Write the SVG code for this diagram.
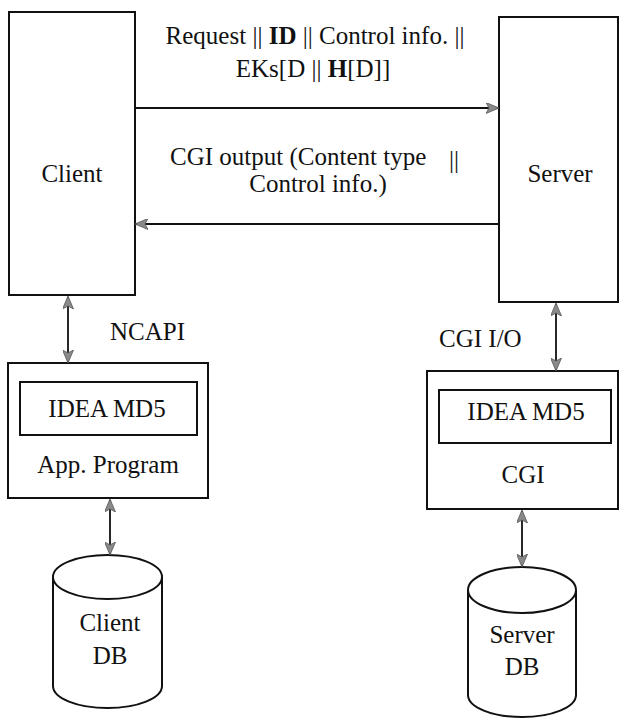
<svg xmlns="http://www.w3.org/2000/svg" width="620" height="718" viewBox="0 0 620 718">
  <style>
    .box { fill: #fff; stroke: #111; stroke-width: 2; }
    .db { fill: #fff; stroke: #111; stroke-width: 2; }
    .lbl { font-family: "Liberation Serif", "Times New Roman", serif; font-size: 25px; fill: #111; }
    .mid { text-anchor: middle; }
    .link { stroke: #111; stroke-width: 1.8; fill: none; }
  </style>
  <defs>
    <marker id="arr" viewBox="0 0 13 11" refX="12" refY="5.5" markerWidth="13" markerHeight="11" markerUnits="userSpaceOnUse" orient="auto-start-reverse">
      <path d="M0,0 L13,5.5 L0,11 L3,5.5 Z" fill="#8a8a8a" stroke="#555" stroke-width="0.8"/>
    </marker>
  </defs>
  <rect width="620" height="718" fill="#fff"/>

  <g id="client">
    <rect class="box" x="9" y="12" width="126" height="283"/>
    <text class="lbl mid" x="72" y="182">Client</text>
  </g>

  <g id="server">
    <rect class="box" x="499" y="17" width="119" height="285"/>
    <text class="lbl mid" x="560" y="182">Server</text>
  </g>

  <g id="app-program">
    <rect class="box" x="8" y="363" width="200" height="135"/>
    <rect class="box" x="20" y="382" width="177" height="53"/>
    <text class="lbl mid" x="107" y="417">IDEA MD5</text>
    <text class="lbl mid" x="108" y="473">App. Program</text>
  </g>

  <g id="cgi">
    <rect class="box" x="427" y="371" width="191" height="138"/>
    <rect class="box" x="439" y="390" width="172" height="53"/>
    <text class="lbl mid" x="526" y="420">IDEA MD5</text>
    <text class="lbl mid" x="523" y="483">CGI</text>
  </g>

  <g id="client-db">
    <path class="db" d="M53,577 L53,686 A54.5,22 0 0 0 162,686 L162,577"/>
    <ellipse class="db" cx="107.5" cy="577" rx="54.5" ry="22"/>
    <text class="lbl mid" x="110" y="631">Client</text>
    <text class="lbl mid" x="110" y="664">DB</text>
  </g>

  <g id="server-db">
    <path class="db" d="M468,590 L468,695 A54,22 0 0 0 576,695 L576,590"/>
    <ellipse class="db" cx="522" cy="590" rx="54" ry="23"/>
    <text class="lbl mid" x="522" y="643">Server</text>
    <text class="lbl mid" x="522" y="675">DB</text>
  </g>

  <g id="connectors">
    <line class="link" x1="135" y1="108" x2="498" y2="108" marker-end="url(#arr)"/>
    <line class="link" x1="499" y1="224" x2="136" y2="224" marker-end="url(#arr)"/>
    <line class="link" x1="68" y1="297" x2="68" y2="362" marker-start="url(#arr)" marker-end="url(#arr)"/>
    <line class="link" x1="110" y1="500" x2="110" y2="554" marker-start="url(#arr)" marker-end="url(#arr)"/>
    <line class="link" x1="556" y1="304" x2="556" y2="370" marker-start="url(#arr)" marker-end="url(#arr)"/>
    <line class="link" x1="522" y1="511" x2="522" y2="566" marker-start="url(#arr)" marker-end="url(#arr)"/>
  </g>

  <g id="labels">
    <text class="lbl mid" x="315" y="44">Request || <tspan font-weight="bold">ID</tspan> || Control info. ||</text>
    <text class="lbl mid" x="313" y="77">EKs[D || <tspan font-weight="bold">H</tspan>[D]]</text>
    <text class="lbl" x="170" y="165">CGI output (Content type</text>
    <text class="lbl" x="449" y="168">||</text>
    <text class="lbl mid" x="318" y="192">Control info.)</text>
    <text class="lbl" x="110" y="340">NCAPI</text>
    <text class="lbl" x="439" y="347">CGI I/O</text>
  </g>
</svg>
